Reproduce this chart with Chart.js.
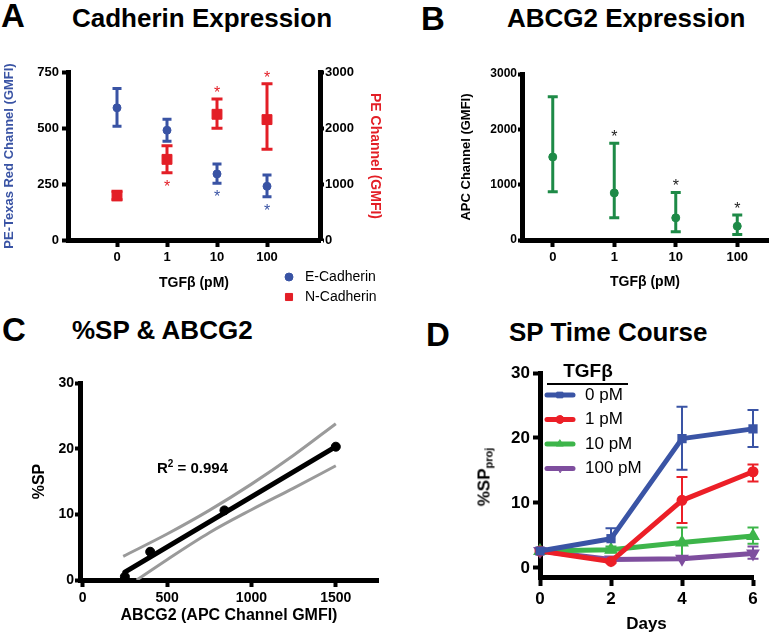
<!DOCTYPE html>
<html>
<head>
<meta charset="utf-8">
<script src="https://cdn.jsdelivr.net/npm/chart.js@4.4.1/dist/chart.umd.min.js"></script>
<style>
  body { margin: 0; background: #fff; }
  #fig { position: relative; width: 773px; height: 636px; overflow: hidden; font-family: 'Liberation Sans', Arial, sans-serif; }
  canvas { position: absolute; }
  .t { position: absolute; font-weight: bold; white-space: nowrap; line-height: 1; color: #000; }
  .letter { font-size: 33px; }
  .head { font-size: 26px; }
  .rot { transform: translate(-50%, -50%) rotate(-90deg); }
  sub { font-size: 11px; vertical-align: -3px; }
  sup { font-size: 10px; vertical-align: 6px; }
</style>
</head>
<body>
<div id="fig">
  <div class="t letter" style="left:1px;top:-1px">A</div>
  <div class="t head" style="left:72px;top:5px">Cadherin Expression</div>
  <div class="t letter" style="left:421px;top:2px">B</div>
  <div class="t head" style="left:507px;top:5px">ABCG2 Expression</div>
  <div class="t letter" style="left:2px;top:313px">C</div>
  <div class="t head" style="left:72px;top:317px">%SP &amp; ABCG2</div>
  <div class="t letter" style="left:426px;top:318px">D</div>
  <div class="t head" style="left:509px;top:319px">SP Time Course</div>

  <canvas id="chartA" width="390" height="262" style="left:0;top:50px"></canvas>
  <canvas id="chartB" width="388" height="250" style="left:385px;top:50px"></canvas>
  <canvas id="chartC" width="390" height="286" style="left:0;top:350px"></canvas>
  <canvas id="chartD" width="388" height="286" style="left:385px;top:350px"></canvas>

  <div class="t" style="left:157px;top:459px;font-size:15px">R<sup>2</sup> = 0.994</div>
  <div class="t rot" style="left:485px;top:477px;font-size:17px">%SP<sub>proj</sub></div>
</div>

<script>
const FONT = "'Liberation Sans', Arial, sans-serif";

// --- A: cadherin expression
const doseLabels = ['0', '1', '10', '100'];
const doseIdx = [0, 1, 2, 3];
const eCadMean = [590, 490, 295, 240];
const eCadLow = [508, 441, 253, 193];
const eCadHigh = [676, 539, 339, 290];
const eCadStars = ['', '', 'below', 'below'];
const nCadMean = [790, 1440, 2245, 2150];
const nCadLow = [720, 1200, 1996, 1622];
const nCadHigh = [870, 1681, 2519, 2792];
const nCadStars = ['', 'below', 'above', 'above'];
const leftTicksA = [0, 250, 500, 750];
const rightTicksA = [0, 1000, 2000, 3000];

// --- B: ABCG2 expression
const abcgMean = [1500, 850, 400, 250];
const abcgLow = [870, 400, 150, 100];
const abcgHigh = [2590, 1750, 860, 450];
const abcgStars = ['', 'above', 'above', 'above'];
const yTicksB = [0, 1000, 2000, 3000];

// --- C: %SP vs ABCG2
const corrX = [250, 400, 840, 1500];
const corrY = [0.5, 4.3, 10.6, 20.3];
const fitX = [250, 1500];
const fitY = [1.2, 20.3];
const bandUpX = [240, 500, 750, 1000, 1250, 1500];
const bandUpY = [3.6, 7.0, 10.6, 14.6, 19.0, 23.8];
const bandLoX = [320, 500, 750, 1000, 1250, 1500];
const bandLoY = [0, 3.1, 7.2, 10.7, 14.0, 17.4];
const xTicksC = [0, 500, 1000, 1500];
const yTicksC = [0, 10, 20, 30];

// --- D: SP time course
const days = [0, 2, 4, 6];
const doseNames = ['0 pM', '1 pM', '10 pM', '100 pM'];
const sp0Mean = [2.6, 4.5, 19.9, 21.4];
const sp0Low = [null, 3.0, 15.1, 18.6];
const sp0High = [null, 6.1, 24.8, 24.3];
const sp1Mean = [2.6, 1.0, 10.4, 14.8];
const sp1Low = [null, 0.8, 6.9, 13.3];
const sp1High = [null, 1.2, 14.0, 15.9];
const sp10Mean = [2.6, 2.8, 3.9, 4.9];
const sp10Low = [null, 2.4, 1.5, 3.7];
const sp10High = [null, 3.3, 6.2, 6.2];
const sp100Mean = [2.6, 1.3, 1.4, 2.2];
const sp100Low = [null, 1.1, 1.2, 1.4];
const sp100High = [null, 1.5, 1.7, 3.3];
const xTicksD = [0, 2, 4, 6];
const yTicksD = [0, 10, 20, 30];

const pts = (xs, ys) => xs.map((x, i) => ({ x: x, y: ys[i] }));

function font(size, weight) {
    return { family: FONT, size: size, weight: weight || 'bold' };
}

// thick GraphPad-like axis with only the given ticks
function axis(o) {
    return {
        type: 'linear',
        position: o.position,
        min: o.min,
        max: o.max,
        afterBuildTicks: a => { a.ticks = o.ticks.map(v => ({ value: v })); },
        afterFit: a => {
            if (o.width != null) a.width = o.width;
            if (o.height != null) a.height = o.height;
        },
        border: { display: true, width: 5, color: '#000' },
        grid: { display: true, drawOnChartArea: false, drawTicks: true, tickLength: o.tickLength || 6, tickWidth: 4, tickColor: '#000' },
        ticks: {
            color: '#000', font: font(o.tickSize), padding: o.tickPad != null ? o.tickPad : 3,
            maxRotation: 0, autoSkip: false,
            callback: o.labels ? v => o.labels[v] : v => String(v)
        },
        title: o.title
            ? { display: true, text: o.title, color: o.titleColor || '#000', font: font(o.titleSize), padding: o.titlePad }
            : { display: false }
    };
}

function baseOptions(padding, scales, extra) {
    return {
        responsive: false,
        animation: false,
        devicePixelRatio: 1,
        layout: { padding: padding },
        plugins: Object.assign({ legend: { display: false }, tooltip: { enabled: false } }, extra || {}),
        scales: scales
    };
}

// error bars (behind the marks) and significance stars
const errorBars = {
    id: 'errorBars',
    beforeDatasetsDraw(chart) {
        const ctx = chart.ctx;
        chart.data.datasets.forEach((ds, i) => {
            if (!ds.errLow) return;
            const meta = chart.getDatasetMeta(i);
            const xs = chart.scales[meta.xAxisID];
            const ys = chart.scales[meta.yAxisID];
            ctx.save();
            ctx.strokeStyle = ds.borderColor;
            ctx.lineWidth = ds.errWidth;
            ds.data.forEach((p, j) => {
                const lo = ds.errLow[j], hi = ds.errHigh[j];
                if (lo == null) return;
                const x = xs.getPixelForValue(p.x);
                const y1 = ys.getPixelForValue(lo);
                const y2 = ys.getPixelForValue(hi);
                const c = ds.capWidth / 2;
                ctx.beginPath();
                ctx.moveTo(x, y1); ctx.lineTo(x, y2);
                ctx.moveTo(x - c, y1); ctx.lineTo(x + c, y1);
                ctx.moveTo(x - c, y2); ctx.lineTo(x + c, y2);
                ctx.stroke();
            });
            ctx.restore();
        });
    },
    afterDatasetsDraw(chart) {
        const ctx = chart.ctx;
        chart.data.datasets.forEach((ds, i) => {
            if (!ds.stars) return;
            const meta = chart.getDatasetMeta(i);
            const xs = chart.scales[meta.xAxisID];
            const ys = chart.scales[meta.yAxisID];
            ctx.save();
            ctx.fillStyle = ds.starColor || ds.borderColor;
            ctx.font = '16px ' + FONT;
            ctx.textAlign = 'center';
            ctx.textBaseline = 'alphabetic';
            ds.data.forEach((p, j) => {
                const s = ds.stars[j];
                if (!s) return;
                const x = xs.getPixelForValue(p.x);
                const yc = s === 'above'
                    ? ys.getPixelForValue(ds.errHigh[j]) - 10
                    : ys.getPixelForValue(ds.errLow[j]) + 10;
                ctx.fillText('*', x, yc + 9);
            });
            ctx.restore();
        });
    }
};

// simple key drawn from the datasets
const keyLegend = {
    id: 'keyLegend',
    afterDraw(chart, args, o) {
        if (!o || o.x == null) return;
        const ctx = chart.ctx;
        ctx.save();
        if (o.title) {
            ctx.fillStyle = '#000';
            ctx.font = 'bold ' + o.titleSize + 'px ' + FONT;
            ctx.textAlign = 'center';
            ctx.textBaseline = 'middle';
            ctx.fillText(o.title, o.titleX, o.titleY);
            ctx.lineWidth = 2;
            ctx.strokeStyle = '#000';
            ctx.beginPath();
            ctx.moveTo(o.ruleX1, o.ruleY);
            ctx.lineTo(o.ruleX2, o.ruleY);
            ctx.stroke();
        }
        chart.data.datasets.forEach((ds, i) => {
            if (!ds.label) return;
            const y = o.y + i * o.gap;
            let cx = o.x;
            if (o.lineLen) {
                ctx.strokeStyle = ds.borderColor;
                ctx.lineWidth = ds.borderWidth;
                ctx.lineCap = 'round';
                ctx.beginPath();
                ctx.moveTo(o.x, y);
                ctx.lineTo(o.x + o.lineLen, y);
                ctx.stroke();
                cx = o.x + o.lineLen / 2;
            }
            ctx.fillStyle = ds.backgroundColor;
            ctx.strokeStyle = ds.backgroundColor;
            ctx.lineWidth = 1;
            Chart.helpers.drawPoint(ctx, {
                pointStyle: ds.pointStyle,
                radius: ds.legendRadius || ds.pointRadius,
                rotation: ds.rotation || 0,
                borderWidth: 1
            }, cx, y);
            ctx.fillStyle = '#000';
            ctx.font = o.fontSize + 'px ' + FONT;
            ctx.textAlign = 'left';
            ctx.textBaseline = 'middle';
            ctx.fillText(ds.label, o.textX, y);
        });
        ctx.restore();
    }
};

// ---------- A
const BLUE_A = '#3953a4';
const RED_A = '#e31e26';
new Chart(document.getElementById('chartA'), {
    type: 'scatter',
    data: {
        datasets: [
            {
                label: 'E-Cadherin', data: pts(doseIdx, eCadMean), yAxisID: 'y',
                backgroundColor: BLUE_A, borderColor: BLUE_A, pointStyle: 'circle', pointRadius: 4,
                errLow: eCadLow, errHigh: eCadHigh, stars: eCadStars, errWidth: 3, capWidth: 9, clip: false
            },
            {
                label: 'N-Cadherin', data: pts(doseIdx, nCadMean), yAxisID: 'y2',
                backgroundColor: RED_A, borderColor: RED_A, pointStyle: 'rect', pointRadius: 7, legendRadius: 5,
                errLow: nCadLow, errHigh: nCadHigh, stars: nCadStars, errWidth: 3, capWidth: 11, clip: false
            }
        ]
    },
    options: baseOptions({ top: 22, left: 0, right: 0, bottom: 0 }, {
        x: axis({ position: 'bottom', min: -0.98, max: 4.06, ticks: doseIdx, labels: doseLabels, height: 72,
            tickSize: 13, tickLength: 7, title: 'TGF\u03b2 (pM)', titleSize: 14, titlePad: { top: 0, bottom: 20 } }),
        y: axis({ position: 'left', min: 0, max: 750, ticks: leftTicksA, width: 68, tickSize: 13,
            title: 'PE-Texas Red Channel (GMFI)', titleColor: BLUE_A, titleSize: 13, titlePad: { top: 2, bottom: 0 } }),
        y2: axis({ position: 'right', min: 0, max: 3000, ticks: rightTicksA, width: 70, tickSize: 13, tickLength: 4, tickPad: 1,
            title: 'PE Channel (GMFI)', titleColor: RED_A, titleSize: 14, titlePad: { top: 7, bottom: 0 } })
    }, {
        keyLegend: { x: 289, y: 227, gap: 20, textX: 305, fontSize: 14 }
    }),
    plugins: [errorBars, keyLegend]
});

// ---------- B
const GREEN_B = '#1e8a47';
new Chart(document.getElementById('chartB'), {
    type: 'scatter',
    data: {
        datasets: [{
            label: 'ABCG2', data: pts(doseIdx, abcgMean),
            backgroundColor: GREEN_B, borderColor: GREEN_B, pointStyle: 'circle', pointRadius: 4,
            errLow: abcgLow, errHigh: abcgHigh, stars: abcgStars, starColor: '#222', errWidth: 3, capWidth: 10, clip: false
        }]
    },
    options: baseOptions({ top: 24, left: 0, right: 0, bottom: 0 }, {
        x: axis({ position: 'bottom', min: -0.5, max: 3.5, ticks: doseIdx, labels: doseLabels, height: 60,
            tickSize: 13, tickLength: 7, title: 'TGF\u03b2 (pM)', titleSize: 14, titlePad: { top: 0, bottom: 9 } }),
        y: axis({ position: 'left', min: 0, max: 3000, ticks: yTicksB, width: 137, tickSize: 12, tickLength: 4, tickPad: 1,
            title: 'APC Channel (GMFI)', titleSize: 13, titlePad: { top: 74, bottom: 0 } })
    }),
    plugins: [errorBars]
});

// ---------- C
const GREY = '#9a9a9a';
new Chart(document.getElementById('chartC'), {
    type: 'scatter',
    data: {
        datasets: [
            { data: pts(corrX, corrY), backgroundColor: '#000', borderColor: '#000', pointRadius: 4.5, clip: false },
            { data: pts(fitX, fitY), showLine: true, borderColor: '#000', borderWidth: 5, pointRadius: 0, borderCapStyle: 'round' },
            { data: pts(bandUpX, bandUpY), showLine: true, borderColor: GREY, borderWidth: 3, pointRadius: 0, cubicInterpolationMode: 'monotone' },
            { data: pts(bandLoX, bandLoY), showLine: true, borderColor: GREY, borderWidth: 3, pointRadius: 0, cubicInterpolationMode: 'monotone' }
        ]
    },
    options: baseOptions({ top: 33, left: 0, right: 12, bottom: 0 }, {
        x: axis({ position: 'bottom', min: -16, max: 1750, ticks: xTicksC, height: 56, tickSize: 14, tickLength: 7,
            title: 'ABCG2 (APC Channel GMFI)', titleSize: 16, titlePad: { top: 0, bottom: 11 } }),
        y: axis({ position: 'left', min: 0, max: 30, ticks: yTicksC, width: 80, tickSize: 14, tickLength: 5, tickPad: 1,
            title: '%SP', titleSize: 16, titlePad: { top: 30, bottom: 0 } })
    }),
    plugins: [errorBars]
});

// ---------- D
const seriesD = [
    { mean: sp0Mean, low: sp0Low, high: sp0High, color: '#3a54a5', style: 'rect', rot: 0 },
    { mean: sp1Mean, low: sp1Low, high: sp1High, color: '#ec1f27', style: 'circle', rot: 0 },
    { mean: sp10Mean, low: sp10Low, high: sp10High, color: '#3db54a', style: 'triangle', rot: 0 },
    { mean: sp100Mean, low: sp100Low, high: sp100High, color: '#7e4e9e', style: 'triangle', rot: 180 }
];
new Chart(document.getElementById('chartD'), {
    type: 'scatter',
    data: {
        datasets: seriesD.map((s, i) => ({
            label: doseNames[i], data: pts(days, s.mean), showLine: true,
            borderColor: s.color, backgroundColor: s.color, borderWidth: 5,
            borderJoinStyle: 'round', borderCapStyle: 'round',
            pointStyle: s.style, rotation: s.rot, pointRadius: 3, legendRadius: 4,
            errLow: s.low, errHigh: s.high, errWidth: 2, capWidth: 11, clip: false
        }))
    },
    options: baseOptions({ top: 23, left: 0, right: 20, bottom: 0 }, {
        x: axis({ position: 'bottom', min: 0, max: 6, ticks: xTicksD, height: 59, tickSize: 17, tickLength: 9,
            title: 'Days', titleSize: 17, titlePad: { top: 0, bottom: 1 } }),
        y: axis({ position: 'left', min: -1.4, max: 30, ticks: yTicksD, width: 155, tickSize: 17, tickLength: 7 })
    }, {
        keyLegend: {
            x: 162, y: 45, gap: 24.5, lineLen: 26, textX: 200, fontSize: 17,
            title: 'TGF\u03b2', titleSize: 19, titleX: 203, titleY: 22, ruleX1: 162, ruleX2: 243, ruleY: 34
        }
    }),
    plugins: [errorBars, keyLegend]
});
</script>
</body>
</html>
